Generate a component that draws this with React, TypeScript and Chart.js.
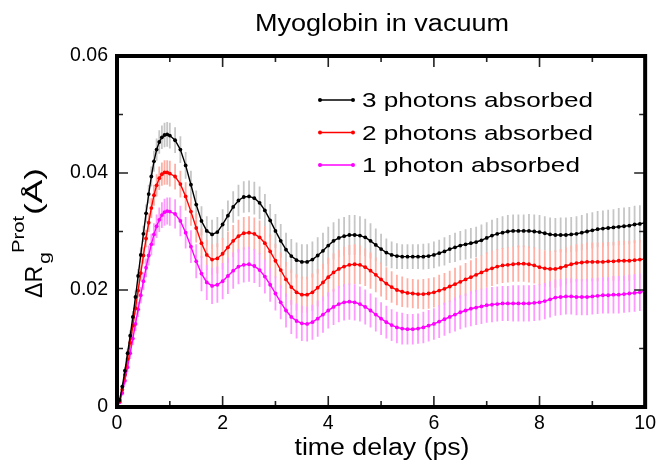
import React, { useEffect, useRef } from 'react';
import { Chart, registerables } from 'chart.js';

Chart.register(...registerables);

// ---------------- data ----------------
const TIME_PS = [
  0, 0.05, 0.1, 0.15, 0.2, 0.25, 0.3, 0.35, 0.4, 0.45, 0.5, 0.55, 0.6, 0.65, 0.7, 0.75, 0.8, 0.85, 0.9, 0.95, 1.0,
  1.1, 1.2, 1.3, 1.4, 1.5, 1.6, 1.7, 1.8, 1.9, 2.0,
  2.1, 2.2, 2.3, 2.4, 2.5, 2.6, 2.7, 2.8, 2.9, 3.0,
  3.1, 3.2, 3.3, 3.4, 3.5, 3.6, 3.7, 3.8, 3.9, 4.0,
  4.1, 4.2, 4.3, 4.4, 4.5, 4.6, 4.7, 4.8, 4.9, 5.0,
  5.1, 5.2, 5.3, 5.4, 5.5, 5.6, 5.7, 5.8, 5.9, 6.0,
  6.1, 6.2, 6.3, 6.4, 6.5, 6.6, 6.7, 6.8, 6.9, 7.0,
  7.1, 7.2, 7.3, 7.4, 7.5, 7.6, 7.7, 7.8, 7.9, 8.0,
  8.1, 8.2, 8.3, 8.4, 8.5, 8.6, 8.7, 8.8, 8.9, 9.0,
  9.1, 9.2, 9.3, 9.4, 9.5, 9.6, 9.7, 9.8, 9.9, 10.0,
];

const RG_3PH = [
  0, 0.0012, 0.0035, 0.0062, 0.0092, 0.0122, 0.0154, 0.0188, 0.0224, 0.0260, 0.0296, 0.0331, 0.0364, 0.0394, 0.0420, 0.0440, 0.0453, 0.0461, 0.0465, 0.0466, 0.0464,
  0.0456, 0.0440, 0.0413, 0.0380, 0.0346, 0.0318, 0.0301, 0.0295, 0.0299, 0.0312,
  0.0327, 0.0342, 0.0353, 0.0359, 0.0360, 0.0357, 0.0349, 0.0336, 0.0319, 0.0301,
  0.0284, 0.0269, 0.0258, 0.0251, 0.0248, 0.0248, 0.0252, 0.0259, 0.0267, 0.0276,
  0.0284, 0.0289, 0.0292, 0.0294, 0.0294, 0.0293, 0.0290, 0.0284, 0.0277, 0.0270,
  0.0264, 0.0260, 0.0258, 0.0257, 0.0257, 0.0257, 0.0257, 0.0257, 0.0258, 0.0260,
  0.0263, 0.0266, 0.0270, 0.0273, 0.0276, 0.0278, 0.0280, 0.0282, 0.0285, 0.0289,
  0.0293, 0.0296, 0.0298, 0.0300, 0.0301, 0.0301, 0.0301, 0.0301, 0.0300, 0.0299,
  0.0297, 0.0295, 0.0294, 0.0294, 0.0294, 0.0295, 0.0296, 0.0298, 0.0300, 0.0302,
  0.0304, 0.0305, 0.0306, 0.0307, 0.0308, 0.0309, 0.0310, 0.0312, 0.0313, 0.0315,
];

const RG_2PH = [
  0, 0.0010, 0.0030, 0.0055, 0.0082, 0.0110, 0.0139, 0.0169, 0.0199, 0.0229, 0.0259, 0.0288, 0.0315, 0.0340, 0.0362, 0.0379, 0.0391, 0.0398, 0.0401, 0.0401, 0.0399,
  0.0394, 0.0381, 0.0360, 0.0334, 0.0306, 0.0280, 0.0260, 0.0252, 0.0254, 0.0262,
  0.0273, 0.0284, 0.0292, 0.0297, 0.0298, 0.0296, 0.0290, 0.0280, 0.0266, 0.0250,
  0.0234, 0.0218, 0.0205, 0.0196, 0.0192, 0.0192, 0.0196, 0.0204, 0.0213, 0.0222,
  0.0230, 0.0236, 0.0240, 0.0243, 0.0244, 0.0243, 0.0239, 0.0233, 0.0226, 0.0218,
  0.0211, 0.0205, 0.0200, 0.0197, 0.0195, 0.0194, 0.0193, 0.0193, 0.0194, 0.0196,
  0.0199, 0.0202, 0.0206, 0.0210, 0.0214, 0.0218, 0.0222, 0.0226, 0.0230, 0.0234,
  0.0237, 0.0240, 0.0242, 0.0243, 0.0244, 0.0245, 0.0245, 0.0244, 0.0242, 0.0239,
  0.0237, 0.0236, 0.0236, 0.0238, 0.0241, 0.0244, 0.0246, 0.0247, 0.0248, 0.0248,
  0.0248, 0.0248, 0.0249, 0.0249, 0.0250, 0.0250, 0.0250, 0.0251, 0.0252, 0.0253,
];

const RG_1PH = [
  0, 0.0008, 0.0024, 0.0045, 0.0068, 0.0092, 0.0117, 0.0142, 0.0167, 0.0191, 0.0215, 0.0238, 0.0259, 0.0278, 0.0295, 0.0309, 0.0320, 0.0328, 0.0333, 0.0335, 0.0334,
  0.0330, 0.0318, 0.0298, 0.0274, 0.0249, 0.0228, 0.0213, 0.0207, 0.0209, 0.0215,
  0.0224, 0.0233, 0.0240, 0.0243, 0.0244, 0.0241, 0.0234, 0.0223, 0.0209, 0.0194,
  0.0179, 0.0165, 0.0154, 0.0147, 0.0143, 0.0142, 0.0145, 0.0151, 0.0158, 0.0165,
  0.0171, 0.0176, 0.0179, 0.0180, 0.0179, 0.0176, 0.0171, 0.0165, 0.0158, 0.0151,
  0.0145, 0.0140, 0.0136, 0.0134, 0.0133, 0.0133, 0.0134, 0.0136, 0.0139, 0.0142,
  0.0146, 0.0150, 0.0154, 0.0158, 0.0162, 0.0165, 0.0168, 0.0170, 0.0172, 0.0174,
  0.0175, 0.0176, 0.0177, 0.0177, 0.0177, 0.0177, 0.0177, 0.0177, 0.0178, 0.0179,
  0.0181, 0.0184, 0.0187, 0.0188, 0.0189, 0.0189, 0.0188, 0.0188, 0.0188, 0.0189,
  0.0190, 0.0191, 0.0191, 0.0192, 0.0192, 0.0193, 0.0194, 0.0195, 0.0196, 0.0198,
];

const ERR_3PH = [
  0, 0.0002, 0.0004, 0.0006, 0.0008, 0.0009, 0.0010, 0.0011, 0.0012, 0.0013, 0.0014, 0.0015, 0.0016, 0.0017, 0.0018, 0.0019, 0.0020, 0.0020, 0.0021, 0.0021, 0.0022,
  0.0022, 0.0023, 0.0023, 0.0024, 0.0024, 0.0025, 0.0025, 0.0025, 0.0026, 0.0026,
  0.0026, 0.0027, 0.0027, 0.0027, 0.0027, 0.0028, 0.0028, 0.0028, 0.0028, 0.0029,
  0.0029, 0.0029, 0.0029, 0.0030, 0.0030, 0.0030, 0.0031, 0.0031, 0.0031, 0.0032,
  0.0032, 0.0033, 0.0033, 0.0034, 0.0034, 0.0033, 0.0032, 0.0030, 0.0028, 0.0026,
  0.0024, 0.0023, 0.0022, 0.0021, 0.0021, 0.0021, 0.0021, 0.0022, 0.0022, 0.0023,
  0.0023, 0.0024, 0.0024, 0.0025, 0.0025, 0.0026, 0.0026, 0.0026, 0.0027, 0.0027,
  0.0027, 0.0027, 0.0028, 0.0028, 0.0028, 0.0028, 0.0028, 0.0029, 0.0029, 0.0029,
  0.0029, 0.0029, 0.0029, 0.0030, 0.0030, 0.0030, 0.0030, 0.0030, 0.0031, 0.0031,
  0.0031, 0.0031, 0.0031, 0.0031, 0.0032, 0.0032, 0.0032, 0.0032, 0.0032, 0.0033,
];

const ERR_2PH = [
  0, 0.0002, 0.0004, 0.0006, 0.0008, 0.0009, 0.0010, 0.0011, 0.0012, 0.0013, 0.0014, 0.0015, 0.0016, 0.0017, 0.0018, 0.0019, 0.0020, 0.0020, 0.0021, 0.0021, 0.0022,
  0.0022, 0.0023, 0.0024, 0.0024, 0.0025, 0.0025, 0.0026, 0.0026, 0.0026, 0.0027,
  0.0027, 0.0027, 0.0028, 0.0028, 0.0028, 0.0028, 0.0029, 0.0029, 0.0029, 0.0029,
  0.0030, 0.0030, 0.0030, 0.0031, 0.0031, 0.0031, 0.0032, 0.0032, 0.0032, 0.0033,
  0.0033, 0.0033, 0.0034, 0.0034, 0.0034, 0.0033, 0.0032, 0.0031, 0.0030, 0.0029,
  0.0028, 0.0027, 0.0026, 0.0026, 0.0025, 0.0025, 0.0025, 0.0026, 0.0026, 0.0026,
  0.0027, 0.0027, 0.0027, 0.0028, 0.0028, 0.0028, 0.0029, 0.0029, 0.0029, 0.0030,
  0.0030, 0.0030, 0.0030, 0.0030, 0.0030, 0.0031, 0.0031, 0.0031, 0.0031, 0.0031,
  0.0031, 0.0031, 0.0032, 0.0032, 0.0032, 0.0032, 0.0032, 0.0032, 0.0033, 0.0033,
  0.0033, 0.0033, 0.0033, 0.0033, 0.0034, 0.0034, 0.0034, 0.0034, 0.0034, 0.0034,
];

const ERR_1PH = [
  0, 0.0002, 0.0004, 0.0006, 0.0008, 0.0010, 0.0011, 0.0012, 0.0013, 0.0014, 0.0015, 0.0016, 0.0017, 0.0018, 0.0019, 0.0020, 0.0021, 0.0022, 0.0023, 0.0023, 0.0024,
  0.0025, 0.0026, 0.0027, 0.0028, 0.0029, 0.0030, 0.0030, 0.0031, 0.0031, 0.0031,
  0.0031, 0.0031, 0.0030, 0.0030, 0.0030, 0.0029, 0.0029, 0.0029, 0.0029, 0.0029,
  0.0029, 0.0029, 0.0029, 0.0030, 0.0030, 0.0030, 0.0030, 0.0031, 0.0031, 0.0031,
  0.0031, 0.0031, 0.0031, 0.0031, 0.0031, 0.0030, 0.0030, 0.0029, 0.0029, 0.0028,
  0.0028, 0.0027, 0.0027, 0.0027, 0.0026, 0.0026, 0.0026, 0.0027, 0.0027, 0.0027,
  0.0028, 0.0028, 0.0028, 0.0029, 0.0029, 0.0029, 0.0030, 0.0030, 0.0030, 0.0030,
  0.0030, 0.0030, 0.0030, 0.0030, 0.0031, 0.0031, 0.0031, 0.0031, 0.0031, 0.0031,
  0.0031, 0.0031, 0.0031, 0.0031, 0.0031, 0.0031, 0.0031, 0.0031, 0.0031, 0.0031,
  0.0031, 0.0031, 0.0031, 0.0032, 0.0032, 0.0032, 0.0032, 0.0032, 0.0032, 0.0032,
];

const SERIES_LABELS = ['3 photons absorbed', '2 photons absorbed', '1 photon absorbed'];
const X_MAJOR = [0, 2, 4, 6, 8, 10];
const X_MINOR = [1, 3, 5, 7, 9];
const Y_MAJOR = [0, 0.02, 0.04, 0.06];
const Y_MINOR = [0.01, 0.03, 0.05];
const TITLE = 'Myoglobin in vacuum';
const X_TITLE = 'time delay (ps)';

// ---------------- styles ----------------
const FONT = '"Liberation Sans", Arial, Helvetica, sans-serif';
const LINE_COLORS = ['#000000', '#ff0000', '#ff00ff'];
const ERR_COLORS = ['#c6c6c6', '#ffb0a6', '#ff99ff'];

function fitText(ctx: CanvasRenderingContext2D, text: string, x: number, y: number, font: string, width: number, align: CanvasTextAlign) {
  ctx.save();
  ctx.font = font;
  const w = ctx.measureText(text).width;
  const s = width / w;
  ctx.translate(x, y);
  ctx.scale(s, 1);
  ctx.textAlign = align;
  ctx.textBaseline = 'alphabetic';
  ctx.fillStyle = '#000';
  ctx.fillText(text, 0, 0);
  ctx.restore();
}

const ERRS = [ERR_3PH, ERR_2PH, ERR_1PH];

const decorPlugin = {
  id: 'decor',
  beforeDatasetsDraw(chart: any) {
    const { ctx, chartArea, scales } = chart;
    const xs = scales.x;
    const ys = scales.y;
    ctx.save();
    ctx.beginPath();
    ctx.rect(chartArea.left, chartArea.top, chartArea.right - chartArea.left, chartArea.bottom - chartArea.top);
    ctx.clip();
    ctx.lineWidth = 1.8;
    chart.data.datasets.forEach((ds: any, di: number) => {
      const errs = ERRS[di];
      ctx.strokeStyle = ERR_COLORS[di];
      ds.data.forEach((p: any, i: number) => {
        const e = errs[i];
        if (!e) return;
        const px = xs.getPixelForValue(p.x);
        ctx.beginPath();
        ctx.moveTo(px, ys.getPixelForValue(p.y - e));
        ctx.lineTo(px, ys.getPixelForValue(p.y + e));
        ctx.stroke();
      });
    });
    ctx.restore();
  },
  afterDatasetsDraw(chart: any) {
    const { ctx, chartArea, scales } = chart;
    const { left, right, top, bottom } = chartArea;
    const xs = scales.x;
    const ys = scales.y;
    ctx.save();
    ctx.strokeStyle = '#222';
    ctx.lineWidth = 1.6;
    const tick = (vals: number[], len: number, isX: boolean) => {
      vals.forEach((v) => {
        if (isX) {
          const px = xs.getPixelForValue(v);
          ctx.beginPath();
          ctx.moveTo(px, bottom);
          ctx.lineTo(px, bottom - len);
          ctx.moveTo(px, top);
          ctx.lineTo(px, top + len);
          ctx.stroke();
        } else {
          const py = ys.getPixelForValue(v);
          ctx.beginPath();
          ctx.moveTo(left, py);
          ctx.lineTo(left + len, py);
          ctx.moveTo(right, py);
          ctx.lineTo(right - len, py);
          ctx.stroke();
        }
      });
    };
    tick(X_MAJOR, 11, true);
    tick(X_MINOR, 6, true);
    tick(Y_MAJOR, 11, false);
    tick(Y_MINOR, 6, false);
    ctx.strokeStyle = '#000';
    ctx.lineWidth = 4;
    ctx.strokeRect(left, top, right - left, bottom - top);
    ctx.restore();
  },
  afterDraw(chart: any) {
    const { ctx } = chart;
    ctx.save();
    // title
    fitText(ctx, TITLE, 382, 31, `23px ${FONT}`, 254, 'center');
    // x title
    fitText(ctx, X_TITLE, 382, 455, `23px ${FONT}`, 175, 'center');
    // y title (rotated)
    ctx.save();
    ctx.translate(42, 298);
    ctx.rotate(-Math.PI / 2);
    fitText(ctx, '\u0394R', 0, 0, `24px ${FONT}`, 32, 'left');
    fitText(ctx, 'g', 34, 8, `16px ${FONT}`, 12, 'left');
    fitText(ctx, 'Prot', 45, -18.5, `16px ${FONT}`, 37, 'left');
    fitText(ctx, '(\u00C5)', 83, 0, `23px ${FONT}`, 47, 'left');
    ctx.restore();
    // legend
    ctx.font = `21px ${FONT}`;
    const s = 231 / ctx.measureText(SERIES_LABELS[0]).width;
    const rows = [100, 132.5, 165];
    SERIES_LABELS.forEach((lab, i) => {
      const y = rows[i];
      ctx.strokeStyle = LINE_COLORS[i];
      ctx.fillStyle = LINE_COLORS[i];
      ctx.lineWidth = 1.5;
      ctx.beginPath();
      ctx.moveTo(320, y);
      ctx.lineTo(353, y);
      ctx.stroke();
      [320, 353].forEach((px) => {
        ctx.beginPath();
        ctx.arc(px, y, 2, 0, Math.PI * 2);
        ctx.fill();
      });
      ctx.save();
      ctx.translate(362, y + 7);
      ctx.scale(s, 1);
      ctx.fillStyle = '#000';
      ctx.textAlign = 'left';
      ctx.textBaseline = 'alphabetic';
      ctx.font = `21px ${FONT}`;
      ctx.fillText(lab, 0, 0);
      ctx.restore();
    });
    ctx.restore();
  },
};

export default function App() {
  const ref = useRef<HTMLCanvasElement | null>(null);
  useEffect(() => {
    if (!ref.current) return;
    const series = [RG_3PH, RG_2PH, RG_1PH];
    const chart = new Chart(ref.current, {
      type: 'line',
      data: {
        datasets: series.map((vals, i) => ({
          label: SERIES_LABELS[i],
          data: TIME_PS.map((t, k) => ({ x: t, y: vals[k] })),
          borderColor: LINE_COLORS[i],
          backgroundColor: LINE_COLORS[i],
          pointBackgroundColor: LINE_COLORS[i],
          pointBorderWidth: 0,
          pointRadius: 1.9,
          borderWidth: 1.4,
          tension: 0,
          fill: false,
        })),
      },
      options: {
        animation: false,
        responsive: false,
        devicePixelRatio: 1,
        layout: { padding: { top: 56, right: 14, bottom: 0, left: 0 } },
        plugins: {
          legend: { display: false },
          tooltip: { enabled: false },
          title: { display: false },
        },
        scales: {
          x: {
            type: 'linear',
            min: 0,
            max: 10,
            grid: { display: false, drawTicks: false },
            border: { display: false },
            afterFit: (scale: any) => { scale.height = 59; },
            ticks: {
              stepSize: 2,
              autoSkip: false,
              maxRotation: 0,
              padding: 5,
              color: '#000',
              font: { family: FONT, size: 19.5 },
            },
          },
          y: {
            type: 'linear',
            min: 0,
            max: 0.06,
            grid: { display: false, drawTicks: false },
            border: { display: false },
            afterFit: (scale: any) => { scale.width = 117; },
            ticks: {
              stepSize: 0.02,
              padding: 9,
              color: '#000',
              font: { family: FONT, size: 19.5 },
              callback: (v: any) => (Number(v) === 0 ? '0' : Number(v).toFixed(2)),
            },
          },
        },
      },
      plugins: [decorPlugin],
    } as any);
    return () => chart.destroy();
  }, []);
  return (
    <div style={{ position: 'fixed', left: 0, top: 0, width: 661, height: 466, background: '#fff' }}>
      <canvas ref={ref} width={661} height={466} style={{ display: 'block' }} />
    </div>
  );
}
